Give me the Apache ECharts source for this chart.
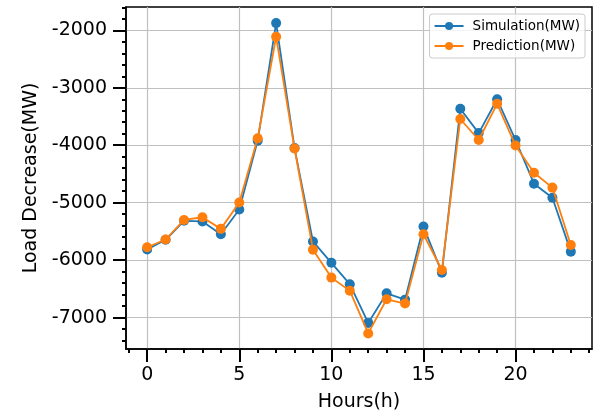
<!DOCTYPE html>
<html>
<head>
<meta charset="utf-8">
<script src="https://cdn.jsdelivr.net/npm/echarts@6/dist/echarts.min.js"></script>
<style>
html,body{margin:0;padding:0;background:#fff;}
#chart{width:594px;height:417px;}
</style>
</head>
<body>
<div id="chart"></div>
<script>
const hours = [0,1,2,3,4,5,6,7,8,9,10,11,12,13,14,15,16,17,18,19,20,21,22,23];
const simulation = [-5815,-5645,-5315,-5326,-5550,-5118,-3920,-1875,-4050,-5674,-6046,-6417,-7091,-6577,-6686,-5415,-6217,-3366,-3789,-3200,-3909,-4669,-4914,-5851];
const prediction = [-5775,-5640,-5300,-5253,-5455,-4995,-3880,-2114,-4057,-5817,-6303,-6531,-7274,-6680,-6754,-5548,-6171,-3543,-3909,-3280,-4006,-4480,-4737,-5737];
const xMajorTicks = [0,5,10,15,20];
const xMinorTicks = [-1,1,2,3,4,6,7,8,9,11,12,13,14,16,17,18,19,21,22,23,24];
const yMajorTicks = [-7000,-6000,-5000,-4000,-3000,-2000];
const yMinorTicks = [-7400,-7200,-6800,-6600,-6400,-6200,-5800,-5600,-5400,-5200,-4800,-4600,-4400,-4200,-3800,-3600,-3400,-3200,-2800,-2600,-2400,-2200,-1800,-1600];
const seriesNames = ['Simulation(MW)','Prediction(MW)'];

const FONT = 'DejaVu Sans';
const X_MIN = -1.15, X_MAX = 24.15, Y_MIN = -7545, Y_MAX = -1595;

const chart = echarts.init(document.getElementById('chart'));
const pairs = arr => hours.map((h,i)=>[h, arr[i]]);

chart.setOption({
  animation:false,
  backgroundColor:'#ffffff',
  grid:{left:126,right:2,top:7,bottom:62,show:true,borderColor:'#000',borderWidth:1.5,backgroundColor:'transparent',containLabel:false},
  legend:{
    orient:'vertical', right:9, top:14,
    backgroundColor:'rgba(255,255,255,0.8)', borderColor:'#cccccc', borderWidth:1, borderRadius:3,
    padding:[5,5,5,4], itemGap:6, itemWidth:29, itemHeight:10,
    textStyle:{fontFamily:FONT,fontSize:13.5,color:'#000',padding:[0,0,0,4]},
    data:seriesNames
  },
  xAxis:[
    {type:'value',min:X_MIN,max:X_MAX,position:'bottom',
     name:'Hours(h)',nameLocation:'middle',nameGap:44,
     nameTextStyle:{fontFamily:FONT,fontSize:19,color:'#000'},
     axisLine:{show:true,onZero:false,lineStyle:{color:'#000',width:1.5}},
     axisTick:{show:true,customValues:xMajorTicks,length:13,lineStyle:{color:'#000',width:2}},
     axisLabel:{show:true,customValues:xMajorTicks,formatter:v=>String(v),fontFamily:FONT,fontSize:19,color:'#000',margin:17},
     splitLine:{show:true,lineStyle:{color:'#c0c0c0',width:1.2}}},
    {type:'value',min:X_MIN,max:X_MAX,position:'bottom',
     axisLine:{show:false,onZero:false},
     axisTick:{show:true,customValues:xMinorTicks,length:4,lineStyle:{color:'#000',width:2}},
     axisLabel:{show:false},splitLine:{show:false}}
  ],
  yAxis:[
    {type:'value',min:Y_MIN,max:Y_MAX,position:'left',
     name:'Load Decrease(MW)',nameLocation:'middle',nameGap:76,
     nameTextStyle:{fontFamily:FONT,fontSize:19,color:'#000'},
     axisLine:{show:true,onZero:false,lineStyle:{color:'#000',width:1.5}},
     axisTick:{show:true,customValues:yMajorTicks,length:13,lineStyle:{color:'#000',width:2}},
     axisLabel:{show:true,customValues:yMajorTicks,formatter:v=>String(v),fontFamily:FONT,fontSize:19,color:'#000',margin:19},
     splitLine:{show:true,lineStyle:{color:'#c0c0c0',width:1.2}}},
    {type:'value',min:Y_MIN,max:Y_MAX,position:'left',
     axisLine:{show:false,onZero:false},
     axisTick:{show:true,customValues:yMinorTicks,length:4,lineStyle:{color:'#000',width:2}},
     axisLabel:{show:false},splitLine:{show:false}}
  ],
  series:[
    {name:seriesNames[0],type:'line',xAxisIndex:0,yAxisIndex:0,data:pairs(simulation),
     symbol:'circle',symbolSize:10,showSymbol:true,color:'#1f77b4',
     lineStyle:{width:1.8,color:'#1f77b4'},itemStyle:{color:'#1f77b4'},z:3},
    {name:seriesNames[1],type:'line',xAxisIndex:0,yAxisIndex:0,data:pairs(prediction),
     symbol:'circle',symbolSize:10,showSymbol:true,color:'#ff7f0e',
     lineStyle:{width:1.8,color:'#ff7f0e'},itemStyle:{color:'#ff7f0e'},z:4}
  ]
});
</script>
</body>
</html>
